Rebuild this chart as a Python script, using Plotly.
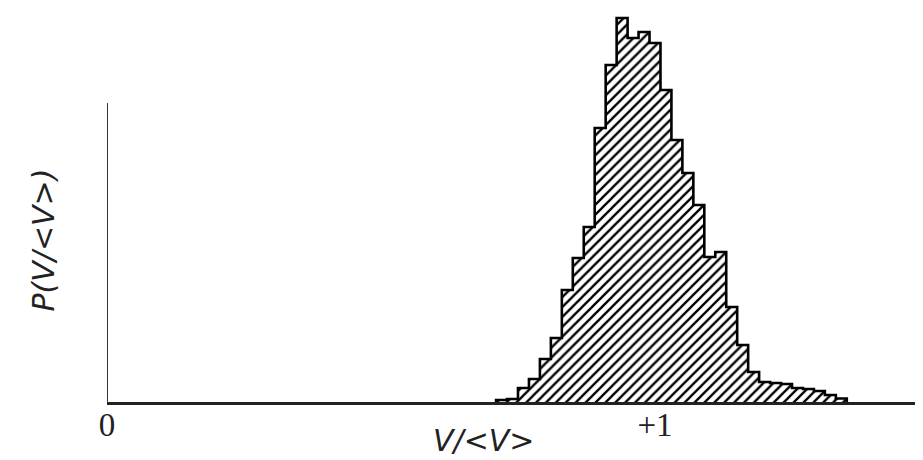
import plotly.graph_objects as go

# Histogram of V/<V> (bin width 0.02), heights in relative units
bin_left = [0.71, 0.73, 0.75, 0.77, 0.79, 0.81, 0.83, 0.85, 0.87, 0.89,
            0.91, 0.93, 0.95, 0.97, 0.99, 1.01, 1.03, 1.05, 1.07, 1.09,
            1.11, 1.13, 1.15, 1.17, 1.19, 1.21, 1.23, 1.25, 1.27, 1.29,
            1.31, 1.33]
heights = [2, 3, 14, 23, 43, 64, 112, 144, 175, 274,
           337, 384, 364, 370, 359, 312, 262, 229, 197, 145,
           150, 95, 57, 30, 20, 19, 18, 14, 13, 11,
           7, 3.5]
bin_width = 0.02
x_range = [0, 1.4836]
y_range = [0, 392]
y_axis_top = 299
tick_vals = [0, 1]
tick_text = ["0", "+1"]

centers = [b + bin_width / 2 for b in bin_left]
edges = bin_left + [bin_left[-1] + bin_width]

fig = go.Figure()
fig.add_trace(go.Bar(
    x=centers, y=heights, width=bin_width,
    marker=dict(color="white", line=dict(width=0),
                pattern=dict(shape="/", fgcolor="black", bgcolor="white",
                             size=7, solidity=0.33, fillmode="replace")),
    showlegend=False, hoverinfo="skip"))
fig.add_trace(go.Scatter(
    x=[edges[0]] + edges, y=[0] + heights + [0],
    mode="lines", line=dict(color="black", width=2.6, shape="hv"),
    showlegend=False, hoverinfo="skip"))

fig.add_shape(type="line", xref="x", yref="y", x0=0, x1=0, y0=0, y1=y_axis_top,
              line=dict(color="#333", width=2))

fig.update_layout(
    width=915, height=452,
    margin=dict(l=99, r=3, t=2, b=58),
    paper_bgcolor="white", plot_bgcolor="white",
    bargap=0,
    xaxis=dict(range=x_range, showgrid=False, zeroline=False,
               showline=True, linecolor="#222", linewidth=2.5,
               tickvals=tick_vals, ticktext=tick_text, ticks="",
               tickfont=dict(family="Liberation Serif", size=33, color="#222"),
               ticklabelstandoff=-8),
    yaxis=dict(range=y_range, showgrid=False, zeroline=False,
               showline=False, showticklabels=False, ticks=""),
    annotations=[
        dict(text="<i>V/&lt;V&gt;</i>", xref="paper", yref="paper",
             x=0.4637, y=-0.097, xanchor="center", yanchor="middle",
             showarrow=False, font=dict(family="DejaVu Sans", size=30, color="#222")),
        dict(text="<i>P(V/&lt;V&gt;)</i>", xref="paper", yref="paper",
             x=-0.0787, y=0.412, xanchor="center", yanchor="middle",
             textangle=-90, showarrow=False,
             font=dict(family="DejaVu Sans", size=30, color="#222")),
    ],
)

fig.write_html("out.html")
